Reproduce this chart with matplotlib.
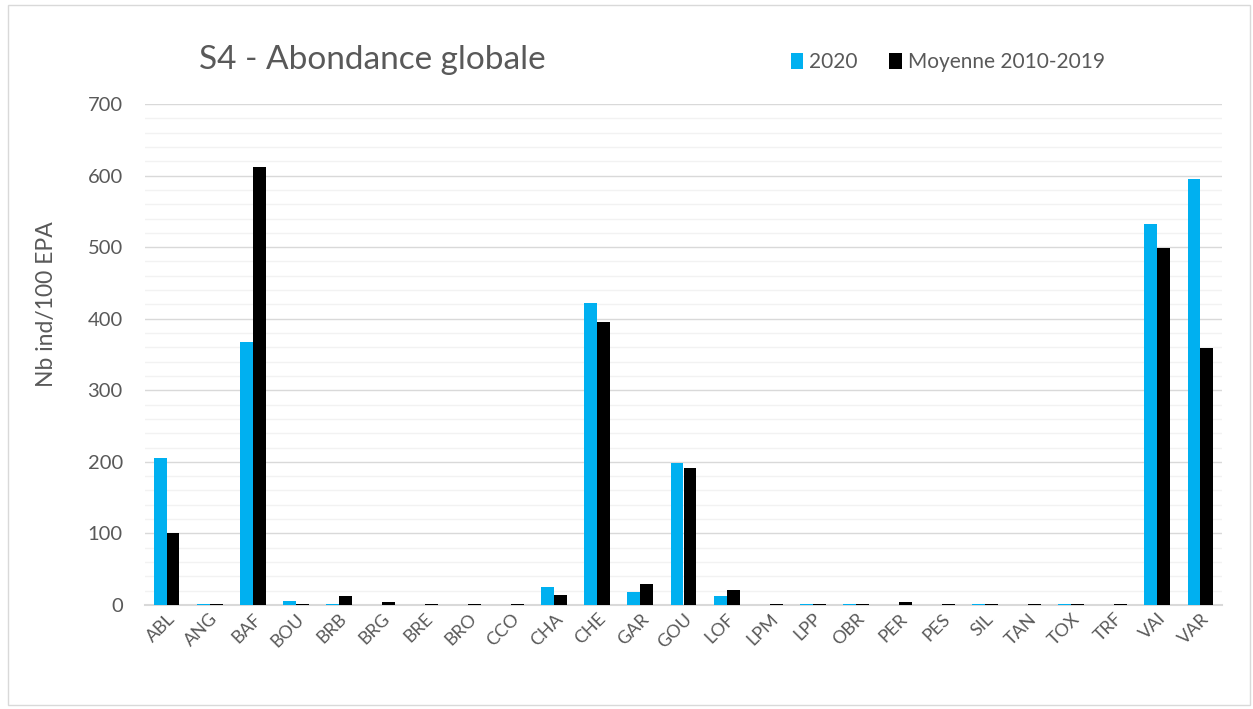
import matplotlib.pyplot as plt
import numpy as np
from matplotlib.patches import Rectangle

species = ["ABL", "ANG", "BAF", "BOU", "BRB", "BRG", "BRE", "BRO", "CCO", "CHA",
           "CHE", "GAR", "GOU", "LOF", "LPM", "LPP", "OBR", "PER", "PES", "SIL",
           "TAN", "TOX", "TRF", "VAI", "VAR"]
val_2020 = [205, 2, 367, 6, 2, 0, 0, 0, 0, 25,
            422, 18, 198, 13, 0, 2, 2, 0, 0, 2,
            0, 2, 0, 532, 595]
val_moy = [100, 2, 612, 2, 13, 4, 2, 2, 2, 14,
           395, 30, 191, 21, 2, 2, 2, 4, 2, 2,
           2, 2, 2, 499, 359]

plt.rcParams['font.family'] = ['Lato', 'DejaVu Sans']
grey = "#595959"

fig = plt.figure(figsize=(12.53, 7.09), dpi=100)
ax = fig.add_axes([145 / 1253, 1 - 605 / 709, (1222 - 145) / 1253, (605 - 104) / 709])

# chart frame
fig.patches.append(Rectangle((8 / 1253, 4 / 709), 1242 / 1253, 700 / 709,
                             transform=fig.transFigure, fill=False,
                             edgecolor="#D9D9D9", linewidth=1))

x = np.arange(len(species))
w = 0.3
ax.bar(x - w / 2, val_2020, w, color="#00B0F0", label="2020", zorder=3)
ax.bar(x + w / 2, val_moy, w, color="#000000", label="Moyenne 2010-2019", zorder=3)

ax.set_xlim(-0.5, len(species) - 0.5)
ax.set_ylim(0, 700)
ax.set_yticks(range(0, 701, 100))
ax.set_yticks(range(0, 701, 20), minor=True)
ax.grid(axis="y", which="minor", color="#F2F2F2", linewidth=1, zorder=0)
ax.grid(axis="y", which="major", color="#D9D9D9", linewidth=1, zorder=1)
ax.tick_params(axis="y", which="both", length=0, labelsize=14.5, labelcolor=grey, pad=16)
ax.tick_params(axis="x", length=0, labelsize=13, labelcolor=grey, pad=4)
ax.set_xticks(x)
ax.set_xticklabels(species, rotation=45, ha="right", rotation_mode="anchor")
for s in ["top", "right", "left"]:
    ax.spines[s].set_visible(False)
ax.spines["bottom"].set_color("#D9D9D9")
ax.spines["bottom"].set_linewidth(1.5)

ax.set_ylabel("Nb ind/100 EPA", fontsize=16.5, color=grey, labelpad=22)
ax.yaxis.label.set_y(0.6)

fig.text(199 / 1253, 1 - 60 / 709, "S4 - Abondance globale", fontsize=24,
         color=grey, va="center", ha="left")
fig.legend(loc="center left", bbox_to_anchor=(772 / 1253, 1 - 62 / 709),
           ncol=2, frameon=False, fontsize=15, labelcolor=grey,
           handlelength=0.6, handleheight=0.8, handletextpad=0.3, columnspacing=1.5)

fig.savefig("out.png", dpi=100)
